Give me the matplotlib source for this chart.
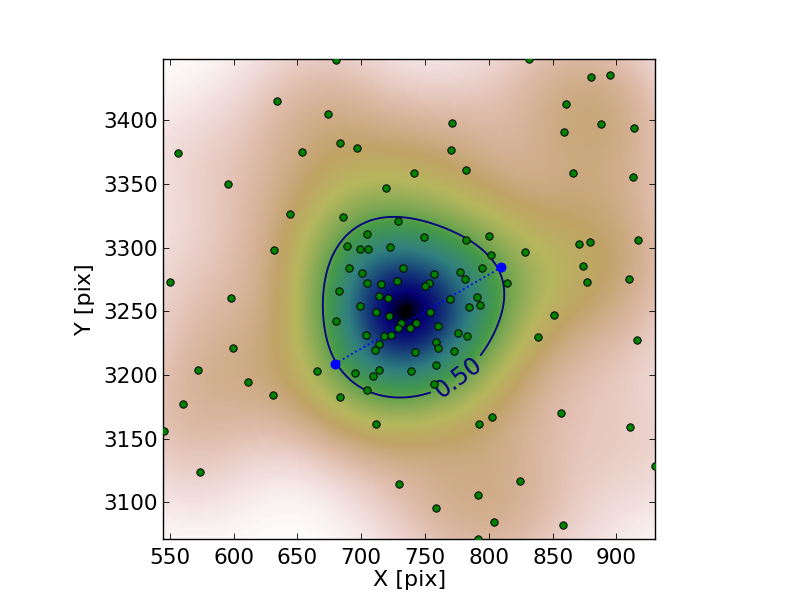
import numpy as np
import matplotlib
matplotlib.use("Agg")
import matplotlib.pyplot as plt

star_x = [634.4,674.4,680.6,556.9,654,683.8,697,595.3,719.8,644.6,686.1,729.2,704.9,632,
          771.5,770.7,741.7,782.4,831.8,880.3,895.2,860.7,888.1,859.2,914,866.2,913.2,749.5,782.4,800.4,870.9,879.5,917.1,828.6,
          689.2,699.4,705.7,722.9,802,690.8,701,733.1,757.4,777.7,795,781.6,814.5,704.9,715.9,728.4,753.4,750.3,683,714.3,721.3,769.9,791,793.4,784.8,699.4,711.9,754.2,722.1,680.6,731.5,743.3,729.2,738.6,760.5,704.1,718.2,723.7,776.2,783.2,714.3,711.2,758.9,760.5,742.5,773,758.9,665.7,695.5,714.3,709.6,739.3,704.9,683.8,757.4,802.8,
          571.8,611.7,631.3,560.8,545.5,711.9,574.1,730,
          792.6,856.8,910.8,930,824.7,791.8,758.5,804.3,858.4,791.8,
          599.7,598.2,550.4,874,877,910,851,838.5,916]
star_y = [3414.9,3404.7,3447.4,3374.1,3374.9,3381.9,3378,3349.7,3346.6,3326.2,3323.8,3320.7,3310.5,3298.1,
          3397.6,3376.5,3358.4,3360.7,3447.9,3433.8,3435.4,3412.6,3396.9,3390.6,3393.7,3358.4,3355.2,3308.1,3305.8,3308.9,3302.6,3304.2,3305.8,3296.3,
          3301,3298.7,3298.7,3300.3,3294,3283.8,3279.8,3283.8,3279.1,3280.6,3283.8,3275.1,3272,3272,3271.2,3273.6,3272,3269.6,3265.7,3261.8,3260.2,3259.4,3261,3254.7,3253.1,3253.9,3249.2,3249.2,3246.1,3242.2,3240.6,3240.6,3236.7,3236.7,3238.2,3231.2,3230.4,3231.2,3232.7,3230.4,3224.1,3219.4,3225.7,3220.9,3217.8,3218.6,3207.6,3202.9,3201.3,3203.7,3199,3202.9,3188,3182.5,3192.7,3166.8,
          3203.7,3194.2,3184,3177,3155.8,3161.3,3123.6,3114.1,
          3161.3,3169.9,3158.9,3128.3,3116.5,3105.5,3095.3,3084.3,3081.9,3071,
          3221,3260.5,3273,3285.6,3273,3275,3247,3230,3227.5]
axis_x = [679.2, 809.8]
axis_y = [3208.6, 3284.6]
xlim = (545.0, 930.4)
ylim = (3071.0, 3447.9)
bandwidth = 39.5
contour_level = 0.50
x_ticks = [550,600,650,700,750,800,850,900]
y_ticks = [3100,3150,3200,3250,3300,3350,3400]

sx, sy = np.array(star_x), np.array(star_y)
gx = np.linspace(xlim[0], xlim[1], 200)
gy = np.linspace(ylim[0], ylim[1], 200)
X, Y = np.meshgrid(gx, gy)
D = np.zeros_like(X)
for a, b in zip(sx, sy):
    D += np.exp(-((X-a)**2 + (Y-b)**2) / (2*bandwidth**2))
D = (D - D.min()) / (D.max() - D.min())

plt.rcParams['font.family'] = 'DejaVu Sans'
fig = plt.figure(figsize=(8, 6), dpi=100)
ax = fig.add_axes([163.3/800, 1-539.3/600, 492/800, 480/600])
ax.imshow(D, origin='lower', extent=[xlim[0], xlim[1], ylim[0], ylim[1]],
          cmap='gist_earth_r', aspect='auto', interpolation='bilinear')
cs = ax.contour(X, Y, D, levels=[contour_level], colors='navy', linewidths=1.3)
ax.clabel(cs, fmt='%.2f', fontsize=17, manual=[(776, 3198)])
ax.plot(axis_x, axis_y, ls=':', color='blue', lw=1.3, zorder=3)
ax.scatter(sx, sy, s=28, c='green', edgecolors='black', linewidths=0.7, zorder=4)
ax.scatter(axis_x, axis_y, s=44, c='blue', edgecolors='blue', linewidths=0.5, zorder=5)
ax.set_xlim(xlim); ax.set_ylim(ylim)
ax.set_xticks(x_ticks); ax.set_yticks(y_ticks)
ax.tick_params(direction='in', top=True, right=True, length=4, width=0.6, labelsize=15.5, pad=4)
ax.tick_params(axis='x', pad=6)
ax.set_xlabel('X [pix]', fontsize=16, labelpad=2)
ax.set_ylabel('Y [pix]', fontsize=16, labelpad=6)
for s in ax.spines.values():
    s.set_linewidth(1.0)
fig.savefig('out.png', dpi=100)
